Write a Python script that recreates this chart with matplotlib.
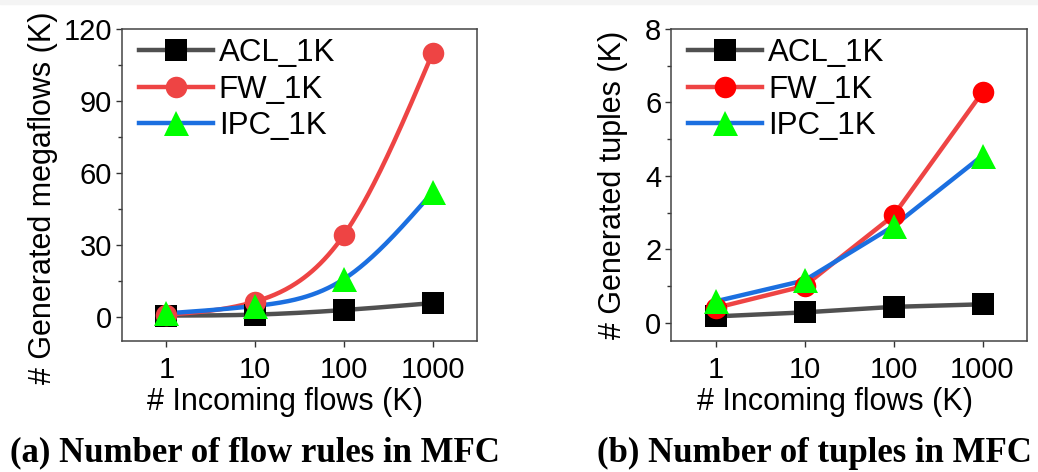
import numpy as np
import matplotlib
matplotlib.use("Agg")
import matplotlib.pyplot as plt
from matplotlib.lines import Line2D
from matplotlib.patches import Rectangle

# Incoming flows (K)
flows = [1, 10, 100, 1000]
series_names = ["ACL_1K", "FW_1K", "IPC_1K"]

# (a) generated megaflows (K)
acl_megaflows = [0.6, 1.0, 2.9, 5.8]
fw_megaflows = [1.0, 6.4, 34.2, 110.0]
ipc_megaflows = [1.5, 4.6, 15.8, 52.0]

# (b) generated tuples (K)
acl_tuples = [0.17, 0.28, 0.43, 0.50]
fw_tuples = [0.40, 1.00, 2.92, 6.28]
ipc_tuples = [0.58, 1.15, 2.63, 4.55]

plt.rcParams["font.family"] = ["Liberation Sans", "DejaVu Sans"]

line_colors = ["#505050", "#ee4444", "#1b6fe0"]
markers = ["s", "o", "^"]
marker_sizes = [15.5, 15.5, 18]


def spline(xs, ys, n=200):
    # natural cubic spline through the points, in log10(x) space
    t = np.log10(np.asarray(xs, dtype=float))
    y = np.asarray(ys, dtype=float)
    k = len(t)
    h = np.diff(t)
    A = np.zeros((k, k))
    b = np.zeros(k)
    A[0, 0] = A[-1, -1] = 1
    for i in range(1, k - 1):
        A[i, i - 1] = h[i - 1]
        A[i, i] = 2 * (h[i - 1] + h[i])
        A[i, i + 1] = h[i]
        b[i] = 6 * ((y[i + 1] - y[i]) / h[i] - (y[i] - y[i - 1]) / h[i - 1])
    m = np.linalg.solve(A, b)
    tt = np.linspace(t[0], t[-1], n)
    out = np.empty_like(tt)
    for j, v in enumerate(tt):
        i = min(np.searchsorted(t, v, side="right") - 1, k - 2)
        a = (t[i + 1] - v) / h[i]
        c = (v - t[i]) / h[i]
        out[j] = (a * y[i] + c * y[i + 1]
                  + ((a ** 3 - a) * m[i] + (c ** 3 - c) * m[i + 1]) * h[i] ** 2 / 6)
    return 10 ** tt, out


def draw_panel(ax, data, marker_colors, smooth, ylim, yticks, minor, ylabel):
    for vals, lc in zip(data, line_colors):
        if smooth:
            sx, sy = spline(flows, vals)
        else:
            sx, sy = flows, vals
        ax.plot(sx, sy, color=lc, lw=3.2, solid_capstyle="round", zorder=2)
    for vals, mk, mc, ms in zip(data, markers, marker_colors, marker_sizes):
        ax.plot(flows, vals, linestyle="none", marker=mk, color=mc,
                markersize=ms, markeredgewidth=0, zorder=3)

    ax.set_xscale("log")
    ax.set_xlim(10 ** -0.5, 10 ** 3.5)
    ax.set_xticks(flows)
    ax.set_xticklabels([str(f) for f in flows])
    ax.xaxis.set_minor_locator(matplotlib.ticker.NullLocator())
    ax.set_ylim(*ylim)
    ax.set_yticks(yticks)
    ax.set_yticks(minor, minor=True)
    ax.tick_params(axis="both", which="major", labelsize=21, length=4,
                   width=1, color="#333333", pad=3)
    ax.tick_params(axis="x", which="major", pad=7)
    ax.tick_params(axis="y", which="minor", length=3, width=1, color="#333333")
    for s in ax.spines.values():
        s.set_color("#444444")
        s.set_linewidth(1.1)
    ax.set_xlabel("# Incoming flows (K)", fontsize=22)
    ax.xaxis.set_label_coords(0.46, -0.147)
    ax.set_ylabel(ylabel, fontsize=22)

    handles = [Line2D([], [], color=lc, lw=3.2, marker=mk, markerfacecolor=mc,
                      markeredgewidth=0, markersize=ms)
               for lc, mk, mc, ms in zip(line_colors, markers, marker_colors, marker_sizes)]
    ax.legend(handles, series_names, loc="upper left", frameon=False,
              bbox_to_anchor=(0.022, 1.0),
              fontsize=22.5, handlelength=2.35, handletextpad=0.2,
              labelspacing=0.2, borderaxespad=0.1, borderpad=0.2)


fig = plt.figure(figsize=(10.38, 4.72), dpi=100)
fig.patches.append(Rectangle((0, 0.991), 1, 0.009, transform=fig.transFigure,
                             color="#f4f4f4", zorder=0))

ax1 = fig.add_axes([122 / 1038, 1 - 341 / 472, 355 / 1038, 312 / 472])
ax2 = fig.add_axes([671 / 1038, 1 - 341 / 472, 356 / 1038, 312 / 472])

draw_panel(ax1, [acl_megaflows, fw_megaflows, ipc_megaflows],
           ["#000000", "#ee4444", "#00ff00"], True,
           (-10, 120), [0, 30, 60, 90, 120], [15, 45, 75, 105],
           "# Generated megaflows (K)")
ax1.yaxis.set_label_coords(-0.18, 0.46)

draw_panel(ax2, [acl_tuples, fw_tuples, ipc_tuples],
           ["#000000", "#ff0000", "#00ff00"], False,
           (-0.5, 8), [0, 2, 4, 6, 8], [1, 3, 5, 7],
           "# Generated tuples (K)")
ax2.yaxis.set_label_coords(-0.12, 0.5)

fig.text(255 / 1038, 1 - 453 / 472, "(a) Number of flow rules in MFC",
         family=["Liberation Serif", "DejaVu Serif"], weight="bold",
         fontsize=25, ha="center", va="center")
fig.text(814 / 1038, 1 - 453 / 472, "(b) Number of tuples in MFC",
         family=["Liberation Serif", "DejaVu Serif"], weight="bold",
         fontsize=25, ha="center", va="center")

fig.savefig("out.png", dpi=100)
